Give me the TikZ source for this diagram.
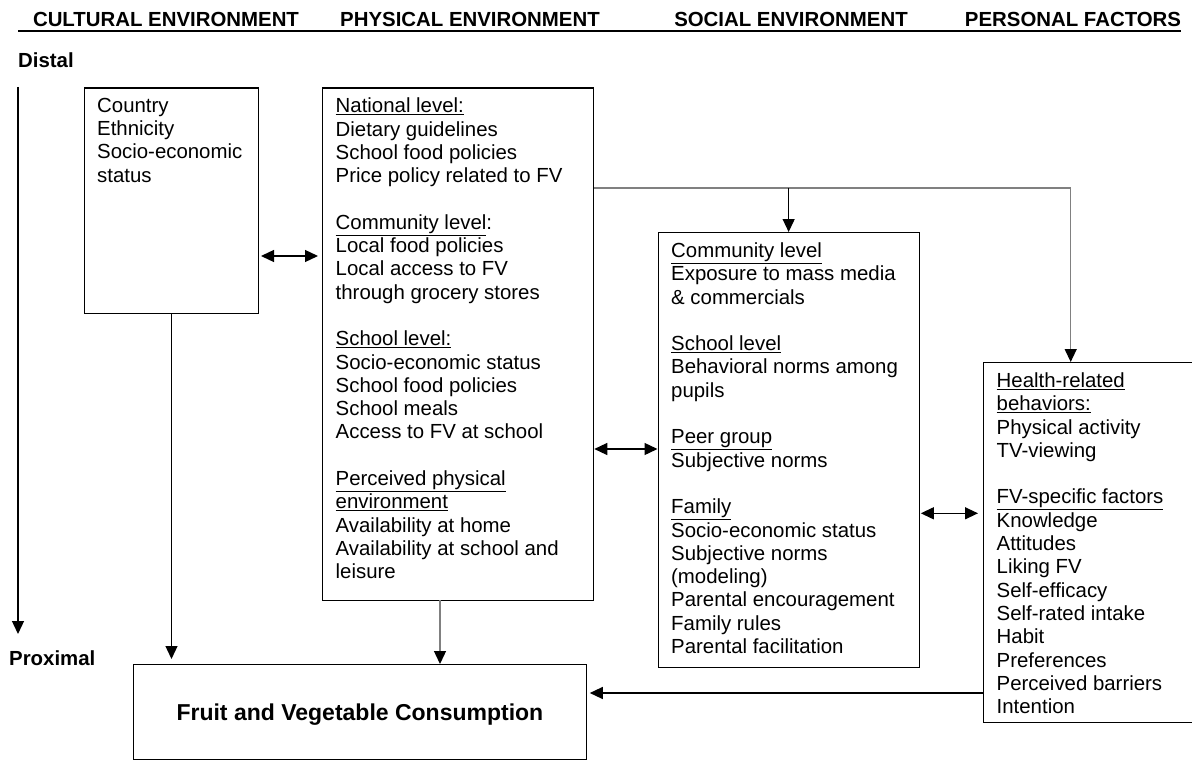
\documentclass[tikz,border=0pt]{standalone}
\usepackage{fontspec}
\setmainfont{Liberation Sans}
\usetikzlibrary{arrows.meta,calc}
\begin{document}
\begin{tikzpicture}[x=1pt,y=-1pt,
  box/.style={draw=black, line width=1.3pt, inner sep=0pt, anchor=north west},
  txt/.style={anchor=north west, inner sep=0pt, align=left, font=\fontsize{20.4}{23.3}\selectfont},
  hdr/.style={font=\fontsize{20.4}{24}\selectfont\bfseries, anchor=base, inner sep=0pt},
  lbl/.style={font=\fontsize{20.4}{24}\selectfont\bfseries, anchor=base west, inner sep=0pt},
  arr/.style={line width=1.3pt, -{Triangle[length=13pt,width=12pt]}},
  garr/.style={draw=black!50, line width=1.3pt, -{Triangle[length=13pt,width=12pt,color=black]}},
  gline/.style={draw=black!50, line width=1.3pt},
  dbl/.style={line width=1.3pt, {Triangle[length=13pt,width=12pt]}-{Triangle[length=13pt,width=12pt]}}
]
\useasboundingbox (0,0) rectangle (1192,765);

% headers
\node[hdr] (h1) at (166,26.5) {CULTURAL ENVIRONMENT};
\node[hdr] (h2) at (470,26.5) {PHYSICAL ENVIRONMENT};
\node[hdr] (h3) at (791,26.5) {SOCIAL ENVIRONMENT};
\node[hdr] (h4) at (1073,26.5) {PERSONAL FACTORS};
\coordinate (hl) at (18,31.5);
\coordinate (hr) at (1181,31.5);
\draw[line width=2pt] (hl) -- (hr);

% distal / proximal
\node[lbl] (distal) at (18,68) {Distal};
\node[lbl] (proximal) at (9,665.5) {Proximal};
\coordinate (dtop) at (18,87);
\coordinate (dbot) at (18,634);
\draw[arr] (dtop) -- (dbot);

% boxes
\node[box, minimum width=173.7pt, minimum height=225.4pt] (cult) at (84,87.3) {};
\node[box, minimum width=271pt, minimum height=512.7pt] (phys) at (322,87.3) {};
\node[box, minimum width=261pt, minimum height=435pt] (soc) at (657.5,232) {};
\node[box, minimum width=240pt, minimum height=360pt] (pers) at (983,362) {};
\node[box, minimum width=452.5pt, minimum height=95pt] (fv) at (133,664) {};

% texts
\node[txt] (culttxt) at ([xshift=13pt,yshift=-10.5pt]cult.north west)
 {Country\\Ethnicity\\Socio-economic\\status};

\node[txt] (phystxt) at ([xshift=13.5pt,yshift=-10.5pt]phys.north west)
 {\underline{National level:}\\
  Dietary guidelines\\
  School food policies\\
  Price policy related to FV\\[23.3pt]
  \underline{Community level}:\\
  Local food policies\\
  Local access to FV\\
  through grocery stores\\[23.3pt]
  \underline{School level:}\\
  Socio-economic status\\
  School food policies\\
  School meals\\
  Access to FV at school\\[23.3pt]
  \underline{Perceived physical}\\
  \underline{environment}\\
  Availability at home\\
  Availability at school and\\
  leisure};

\node[txt] (soctxt) at ([xshift=13.5pt,yshift=-10.5pt]soc.north west)
 {\underline{Community level}\\
  Exposure to mass media\\
  \& commercials\\[23.3pt]
  \underline{School level}\\
  Behavioral norms among\\
  pupils\\[23.3pt]
  \underline{Peer group}\\
  Subjective norms\\[23.3pt]
  \underline{Family}\\
  Socio-economic status\\
  Subjective norms\\
  (modeling)\\
  Parental encouragement\\
  Family rules\\
  Parental facilitation};

\node[txt] (perstxt) at ([xshift=13.5pt,yshift=-10.5pt]pers.north west)
 {\underline{Health-related}\\
  \underline{behaviors:}\\
  Physical activity\\
  TV-viewing\\[23.3pt]
  \underline{FV-specific factors}\\
  Knowledge\\
  Attitudes\\
  Liking FV\\
  Self-efficacy\\
  Self-rated intake\\
  Habit\\
  Preferences\\
  Perceived barriers\\
  Intention};

\node[font=\fontsize{23}{27}\selectfont\bfseries, anchor=base, inner sep=0pt] (fvtxt)
  at (fv.center |- 0,720) {Fruit and Vegetable Consumption};

% connectors
\coordinate (a1) at (cult.east |- 0,256);
\coordinate (a2) at (phys.west |- 0,256);
\draw[dbl, shorten <=2pt, shorten >=4pt] (a1) -- (a2);

\coordinate (b1) at (phys.east |- 0,449);
\coordinate (b2) at (soc.west |- 0,449);
\draw[dbl] (b1) -- (b2);

\coordinate (c1) at (soc.east |- 0,513.3);
\coordinate (c2) at (pers.west |- 0,513.3);
\draw[dbl, shorten <=1pt, shorten >=5pt] (c1) -- (c2);

\coordinate (tj) at (1070.7,188);
\coordinate (tstart) at (phys.east |- tj);
\coordinate (sj) at (soc.north |- tj);
\draw[gline] (tstart) -- (tj);
\draw[garr] (tj) -- (tj |- pers.north);
\draw[arr] (sj) -- (soc.north);

\draw[arr, shorten >=5pt] (cult.south) -- (cult.south |- fv.north);

\coordinate (pb) at (440,600);
\draw[garr] (pb) -- (pb |- fv.north);

\coordinate (p1) at (pers.west |- 0,693);
\coordinate (p2) at (fv.east |- 0,693);
\draw[arr, shorten >=3pt] (p1) -- (p2);
\end{tikzpicture}
\end{document}
